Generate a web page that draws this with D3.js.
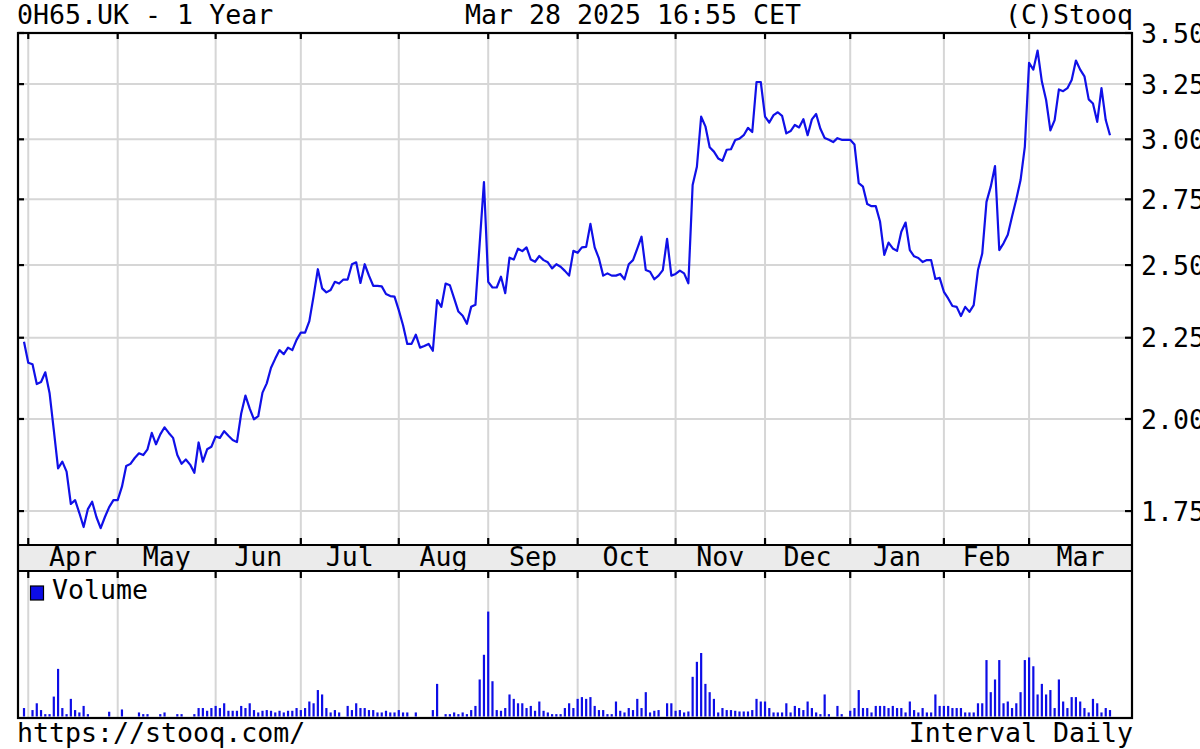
<!DOCTYPE html>
<html><head><meta charset="utf-8">
<script src="https://cdn.jsdelivr.net/npm/d3@7"></script>
<style>
body{margin:0;background:#fff}
svg{display:block}
text{font-family:"DejaVu Sans Mono",monospace;font-size:26.6px;fill:#000}
</style>
</head><body>
<svg id="c" width="1200" height="749"></svg>
<script>
// ---- data ----
const months = ["Apr","May","Jun","Jul","Aug","Sep","Oct","Nov","Dec","Jan","Feb","Mar"];
// index of the first trading day of each month in the daily series
const monthStartIdx = [1,22,45,65,88,109,130,153,174,194,216,236];
const priceTicks = [1.75,2.00,2.25,2.50,2.75,3.00,3.25,3.50];
const prices = [
2.237,2.17,2.165,2.104,2.11,2.14,2.077,1.968,1.862,1.88,
1.853,1.768,1.778,1.745,1.71,1.755,1.774,1.735,1.707,1.735,
1.76,1.778,1.778,1.813,1.868,1.874,1.89,1.903,1.898,1.914,
1.96,1.928,1.956,1.976,1.96,1.946,1.898,1.874,1.886,1.872,
1.85,1.933,1.88,1.914,1.921,1.95,1.946,1.965,1.952,1.94,
1.934,2.016,2.069,2.03,1.999,2.008,2.078,2.106,2.154,2.183,
2.21,2.197,2.218,2.21,2.243,2.267,2.267,2.305,2.39,2.485,
2.417,2.403,2.411,2.44,2.434,2.448,2.448,2.503,2.51,2.436,
2.503,2.462,2.426,2.426,2.424,2.397,2.39,2.388,2.342,2.291,
2.23,2.23,2.26,2.218,2.223,2.23,2.208,2.376,2.353,2.434,
2.428,2.382,2.337,2.323,2.296,2.353,2.36,2.58,2.82,2.44,
2.42,2.42,2.458,2.40,2.527,2.52,2.56,2.551,2.565,2.52,
2.512,2.533,2.518,2.51,2.488,2.503,2.494,2.479,2.462,2.552,
2.545,2.565,2.567,2.654,2.565,2.524,2.462,2.47,2.462,2.462,
2.468,2.449,2.503,2.518,2.56,2.605,2.482,2.476,2.449,2.462,
2.482,2.597,2.462,2.468,2.48,2.47,2.435,2.808,2.883,3.10,
3.057,2.966,2.947,2.918,2.908,2.955,2.957,2.997,3.003,3.018,
3.05,3.032,3.26,3.26,3.10,3.074,3.107,3.12,3.104,3.026,
3.036,3.063,3.052,3.089,3.018,3.088,3.112,3.046,3.006,2.998,
2.988,3.005,2.998,2.998,2.998,2.978,2.815,2.801,2.731,2.723,
2.723,2.663,2.537,2.583,2.561,2.552,2.624,2.659,2.555,2.532,
2.526,2.511,2.518,2.518,2.45,2.454,2.405,2.382,2.356,2.353,
2.322,2.353,2.336,2.359,2.482,2.542,2.74,2.801,2.886,2.555,
2.58,2.612,2.682,2.75,2.828,2.967,3.352,3.319,3.412,3.262,
3.176,3.039,3.085,3.225,3.217,3.231,3.269,3.363,3.319,3.287,
3.179,3.16,3.077,3.231,3.085,3.018
];
const volume = [
9.6,0,7.3,15,7.3,2.7,2.7,22.6,54,9.6,
2.7,20,7.3,4.6,12,2.7,0,0,0,0,
5.4,0,0,8,0,0,0,4.6,2.7,2.7,
0,0,2.7,4.6,0,0,2.7,2.7,0,0,
2.7,9.6,9.6,6.5,9.6,12,9.6,15,6.5,6.5,
6.5,12,9.6,15,7.3,4.6,6.5,7.3,6.5,4.6,
6.5,4.6,6.5,6.5,9.6,7.3,9.6,17,15,30,
25,9.6,4.6,7.3,4.6,0,12,7.3,15,9.6,
9.6,7.3,7.3,4.6,4.6,6.5,4.6,4.6,7.3,4.6,
4.6,0,4.6,0,0,0,7.3,37,0,2.7,
2.7,4.6,2.7,4.6,2.7,7.3,12,42,70,119,
40,7.3,6.5,9.6,25,20,15,15,9.6,12,
6.5,17,6.5,4.6,2.7,2.7,2.7,9.6,15,9.6,
20,22,20,22,12,7.3,7.3,2.7,2.7,17,
6.5,4.6,9.6,7.3,20,9.6,27.6,4.6,6.5,7.3,
0,15,15,6.5,7.3,4.6,5.7,45,62,72,
37,27.6,20,4.6,9.6,7.3,7.3,6.5,5.7,5.7,
5.7,7.3,20,17,17,9.6,4.6,4.6,4.6,15,
4.6,12,9.6,7.3,17,9.6,4.6,2.7,25,2.7,
0,12,2.7,0,6.5,9.6,30,9.6,9.6,4.6,
12,12,12,9.6,12,9.6,9.6,4.6,17,7.3,
4.6,9.6,4.6,4.6,25,12,12,12,9.6,9.6,
9.6,4.6,4.6,4.6,15,15,64,27.6,42,64,
15,17,9.6,15,27.6,64,67,57,25,37,
25,30,9.6,42,17,9.6,22,22,17,9.6,
4.6,20,15,4.6,9.6,7.3
];

// ---- layout ----
const svg = d3.select("#c");
const L = 18, R = 1132, T = 33, PB = 545, BB = 571, VB = 718;
const lineCol = "#1010e8", gridCol = "#d6d6d6";

const x = d3.scaleLinear().domain([0, 255]).range([24, 1110]);
const y = d3.scaleLog().domain([1.666, 3.5]).range([PB, T]);
const yv = d3.scaleLinear().domain([0, 165]).range([716.5, BB]);

svg.append("rect").attr("width",1200).attr("height",749).attr("fill","#fff");

// month band
svg.append("rect").attr("x",L).attr("y",PB).attr("width",R-L).attr("height",BB-PB).attr("fill","#ebebeb");

// grid
const g = svg.append("g");
monthStartIdx.forEach(i => {
  g.append("line").attr("x1",x(i)).attr("x2",x(i)).attr("y1",T).attr("y2",PB)
    .attr("stroke",gridCol).attr("stroke-width",2);
  g.append("line").attr("x1",x(i)).attr("x2",x(i)).attr("y1",BB).attr("y2",VB)
    .attr("stroke",gridCol).attr("stroke-width",2);
});
priceTicks.forEach(p => {
  g.append("line").attr("x1",L).attr("x2",R).attr("y1",y(p)).attr("y2",y(p))
    .attr("stroke",gridCol).attr("stroke-width",2);
});

// price line
svg.append("path").datum(prices)
  .attr("d", d3.line().x((d,i)=>x(i)).y(d=>y(d)))
  .attr("fill","none").attr("stroke",lineCol).attr("stroke-width",2.2).attr("stroke-linejoin","round");

// volume bars
svg.append("g").selectAll("line").data(volume.map((v,i)=>({v,i})).filter(d=>d.v>0))
  .join("line")
  .attr("x1",d=>x(d.i)).attr("x2",d=>x(d.i))
  .attr("y1",yv(0)).attr("y2",d=>yv(d.v))
  .attr("stroke","#0d0de6").attr("stroke-width",2.2);

// frame
const f = svg.append("g").attr("stroke","#000").attr("stroke-width",2.2).attr("fill","none");
f.append("rect").attr("x",L).attr("y",T).attr("width",R-L).attr("height",VB-T);
f.append("line").attr("x1",L).attr("x2",R).attr("y1",PB).attr("y2",PB);
f.append("line").attr("x1",L).attr("x2",R).attr("y1",BB).attr("y2",BB);

// ticks
monthStartIdx.forEach(i => {
  f.append("line").attr("x1",x(i)).attr("x2",x(i)).attr("y1",T).attr("y2",T+6);
  f.append("line").attr("x1",x(i)).attr("x2",x(i)).attr("y1",PB-7).attr("y2",PB);
  f.append("line").attr("x1",x(i)).attr("x2",x(i)).attr("y1",BB).attr("y2",BB+7);
});
priceTicks.forEach(p => {
  f.append("line").attr("x1",R-7).attr("x2",R).attr("y1",y(p)).attr("y2",y(p));
  f.append("line").attr("x1",L).attr("x2",L+6).attr("y1",y(p)).attr("y2",y(p));
});

// y labels (the reference clips them at the right edge)
svg.append("g").selectAll("text").data(priceTicks).join("text")
  .attr("x",1141).attr("y",d=>y(d)).attr("dy","0.36em")
  .text(d=>d3.format(".2f")(d));

// month labels
const bounds = monthStartIdx.map(i=>x(i)).concat([R]);
svg.append("g").selectAll("text").data(months).join("text")
  .attr("x",(d,k)=>(bounds[k]+bounds[k+1])/2).attr("y",566)
  .attr("text-anchor","middle").text(d=>d);

// header / footer
svg.append("text").attr("x",17).attr("y",24).text("0H65.UK - 1 Year");
svg.append("text").attr("x",633).attr("y",24).attr("text-anchor","middle").text("Mar 28 2025 16:55 CET");
svg.append("text").attr("x",1133).attr("y",24).attr("text-anchor","end").text("(C)Stooq");
svg.append("text").attr("x",17).attr("y",742).text("https://stooq.com/");
svg.append("text").attr("x",1133).attr("y",742).attr("text-anchor","end").text("Interval Daily");

// legend
svg.append("rect").attr("x",30.5).attr("y",586).attr("width",13).attr("height",14)
  .attr("fill","#0d0de6").attr("stroke","#000").attr("stroke-width",1.2);
svg.append("text").attr("x",52).attr("y",599).text("Volume");
</script>
</body></html>
